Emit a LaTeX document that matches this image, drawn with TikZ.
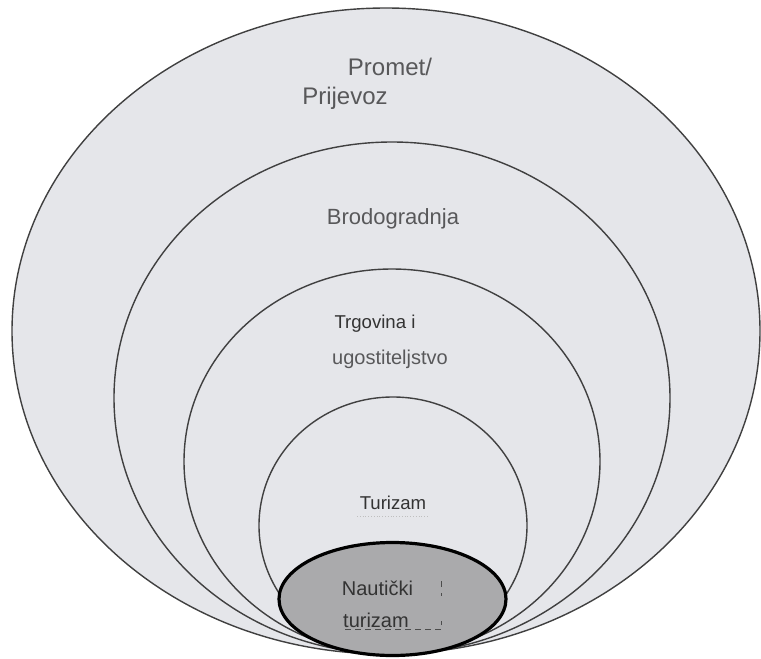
\documentclass[tikz,border=0pt]{standalone}
\usepackage{fontspec}
\setmainfont{Liberation Sans}
\usepackage{tikz}
\definecolor{ringfill}{RGB}{229,230,234}
\definecolor{corefill}{RGB}{170,170,172}
\definecolor{labelgray}{RGB}{88,88,90}

\begin{document}
\begin{tikzpicture}[x=0.5pt,y=-0.5pt,
	ring/.style={draw=black!75,line width=0.7pt,fill=ringfill},
	lbl/.style={text=labelgray,inner sep=0pt,anchor=center}]
\useasboundingbox (0,0) rectangle (761,659);
\foreach \cx/\cy/\rx/\ry in {386/331/374/323,392/398/278/256,392/461.5/208/192.5,393/525.5/134/128.5}{
	\draw[ring] (\cx,\cy) ellipse [x radius=\rx, y radius=\ry];
}
\draw[line width=1.6pt,fill=corefill] (392.5,599) ellipse [x radius=113.5, y radius=56.5];

\node[lbl,font=\fontsize{12}{14}\selectfont] (promet) at (390,67) {Promet/};
\node[lbl,font=\fontsize{12}{14}\selectfont] (prijevoz) at (345,98) {Prijevoz};
\node[lbl,font=\fontsize{11}{13}\selectfont] (brodogradnja) at (393,219) {Brodogradnja};
\node[lbl,font=\fontsize{9.3}{11}\selectfont,text=black!80] (trgovina) at (375,324) {Trgovina i};
\node[lbl,font=\fontsize{10}{12}\selectfont] (ugostiteljstvo) at (390,359) {ugostiteljstvo};
\node[lbl,font=\fontsize{9.3}{11}\selectfont,text=black!80] (turizam) at (393,503) {Turizam};
\node[lbl,font=\fontsize{10}{12}\selectfont,text=black!80] (nauticki) at (377.5,588) {Nautički};
\node[lbl,font=\fontsize{10}{12}\selectfont,text=black!80] (nturizam) at (376,620) {turizam};

\draw[dashed,black!70,line width=0.4pt] (441,581) -- (441,596);
\draw[densely dashed,black!70,line width=0.4pt] (345,629) -- (441,629) -- (441,621);
\draw[densely dotted,black!25,line width=0.4pt] (357,516) -- (428,516);
\end{tikzpicture}
\end{document}
